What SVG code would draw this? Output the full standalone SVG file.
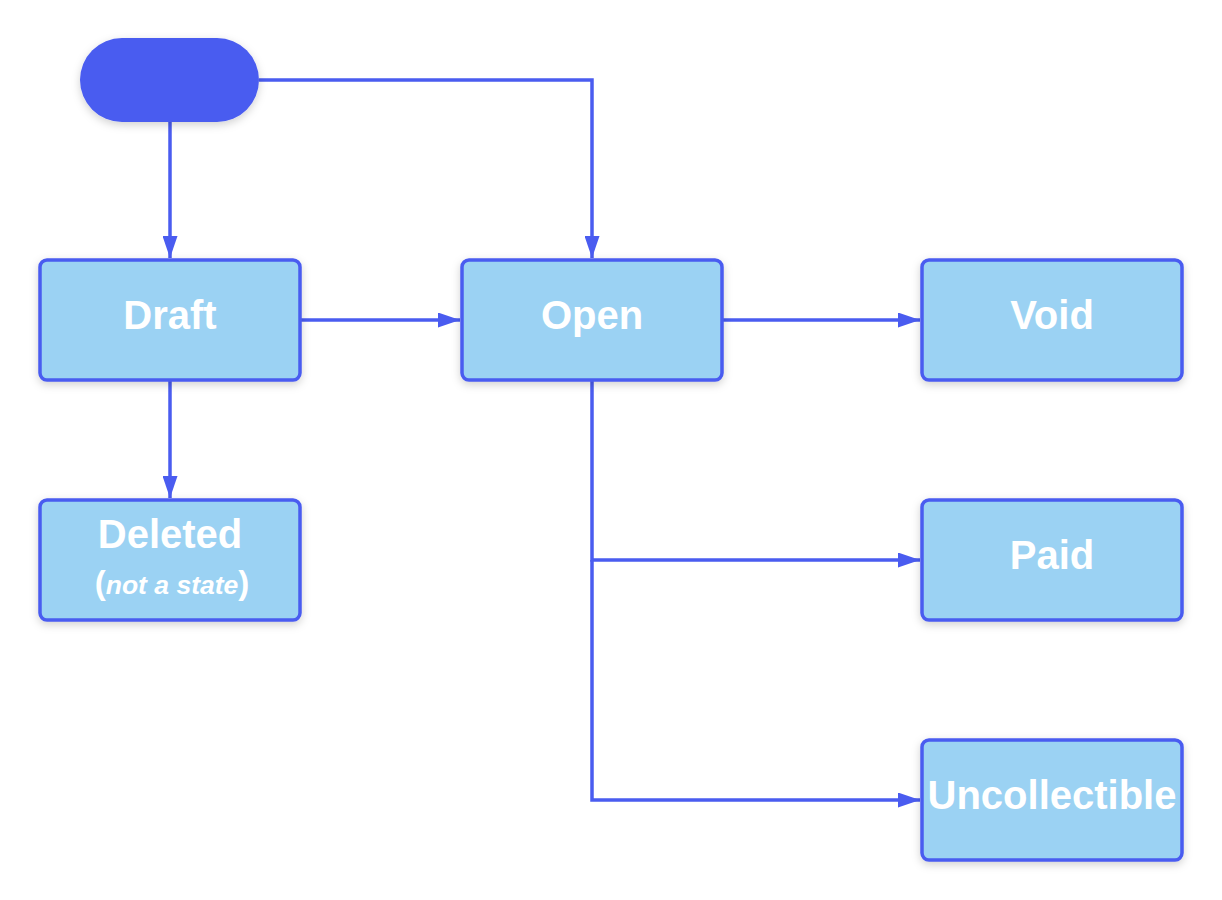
<svg xmlns="http://www.w3.org/2000/svg" width="1222" height="900" viewBox="0 0 1222 900">
  <defs>
    <style>
      .box { fill: #9bd2f3; stroke: #4a5cf0; stroke-width: 3.5; filter: url(#sh); }
      .start { fill: #4a5cf0; filter: url(#sh); }
      .lbl { font-family: "Liberation Sans", Arial, sans-serif; font-weight: bold; font-size: 40px; fill: #ffffff; text-anchor: middle; }
      .sub { font-family: "Liberation Sans", Arial, sans-serif; font-weight: bold; fill: #ffffff; text-anchor: middle; }
      .edge { fill: none; stroke: #4a5cf0; stroke-width: 3.5; marker-end: url(#arr); }
    </style>
    <filter id="sh" x="-20%" y="-20%" width="140%" height="150%">
      <feDropShadow dx="0" dy="3" stdDeviation="4" flood-color="#000000" flood-opacity="0.18"/>
    </filter>
    <marker id="arr" viewBox="0 0 22 15" refX="22" refY="7.5" markerWidth="22" markerHeight="15" markerUnits="userSpaceOnUse" orient="auto">
      <path d="M0,0 L22,7.5 L0,15 Z" fill="#4a5cf0"/>
    </marker>
  </defs>
  <rect width="1222" height="900" fill="#ffffff"/>
  <g id="connectors">
    <path class="edge" d="M170,122 L170,258"/>
    <path class="edge" d="M259,80 L592,80 L592,258"/>
    <path class="edge" d="M300,320 L460,320"/>
    <path class="edge" d="M722,320 L920,320"/>
    <path class="edge" d="M170,380 L170,498"/>
    <path class="edge" d="M592,380 L592,560 L920,560"/>
    <path class="edge" d="M592,560 L592,800 L920,800"/>
  </g>
  <g id="start">
    <rect class="start" x="80" y="38" width="179" height="84" rx="42" ry="42"/>
  </g>
  <g id="draft">
    <rect class="box" x="40" y="260" width="260" height="120" rx="7"/>
    <text class="lbl" x="170" y="329">Draft</text>
  </g>
  <g id="open">
    <rect class="box" x="462" y="260" width="260" height="120" rx="7"/>
    <text class="lbl" x="592" y="329">Open</text>
  </g>
  <g id="void">
    <rect class="box" x="922" y="260" width="260" height="120" rx="7"/>
    <text class="lbl" x="1052" y="329">Void</text>
  </g>
  <g id="deleted">
    <rect class="box" x="40" y="500" width="260" height="120" rx="7"/>
    <text class="lbl" x="170" y="548">Deleted</text>
    <text class="sub" x="172" y="594"><tspan font-size="33">(</tspan><tspan font-size="26.5" font-style="italic">not a state</tspan><tspan font-size="33">)</tspan></text>
  </g>
  <g id="paid">
    <rect class="box" x="922" y="500" width="260" height="120" rx="7"/>
    <text class="lbl" x="1052" y="569">Paid</text>
  </g>
  <g id="uncollectible">
    <rect class="box" x="922" y="740" width="260" height="120" rx="7"/>
    <text class="lbl" x="1052" y="809">Uncollectible</text>
  </g>
</svg>
